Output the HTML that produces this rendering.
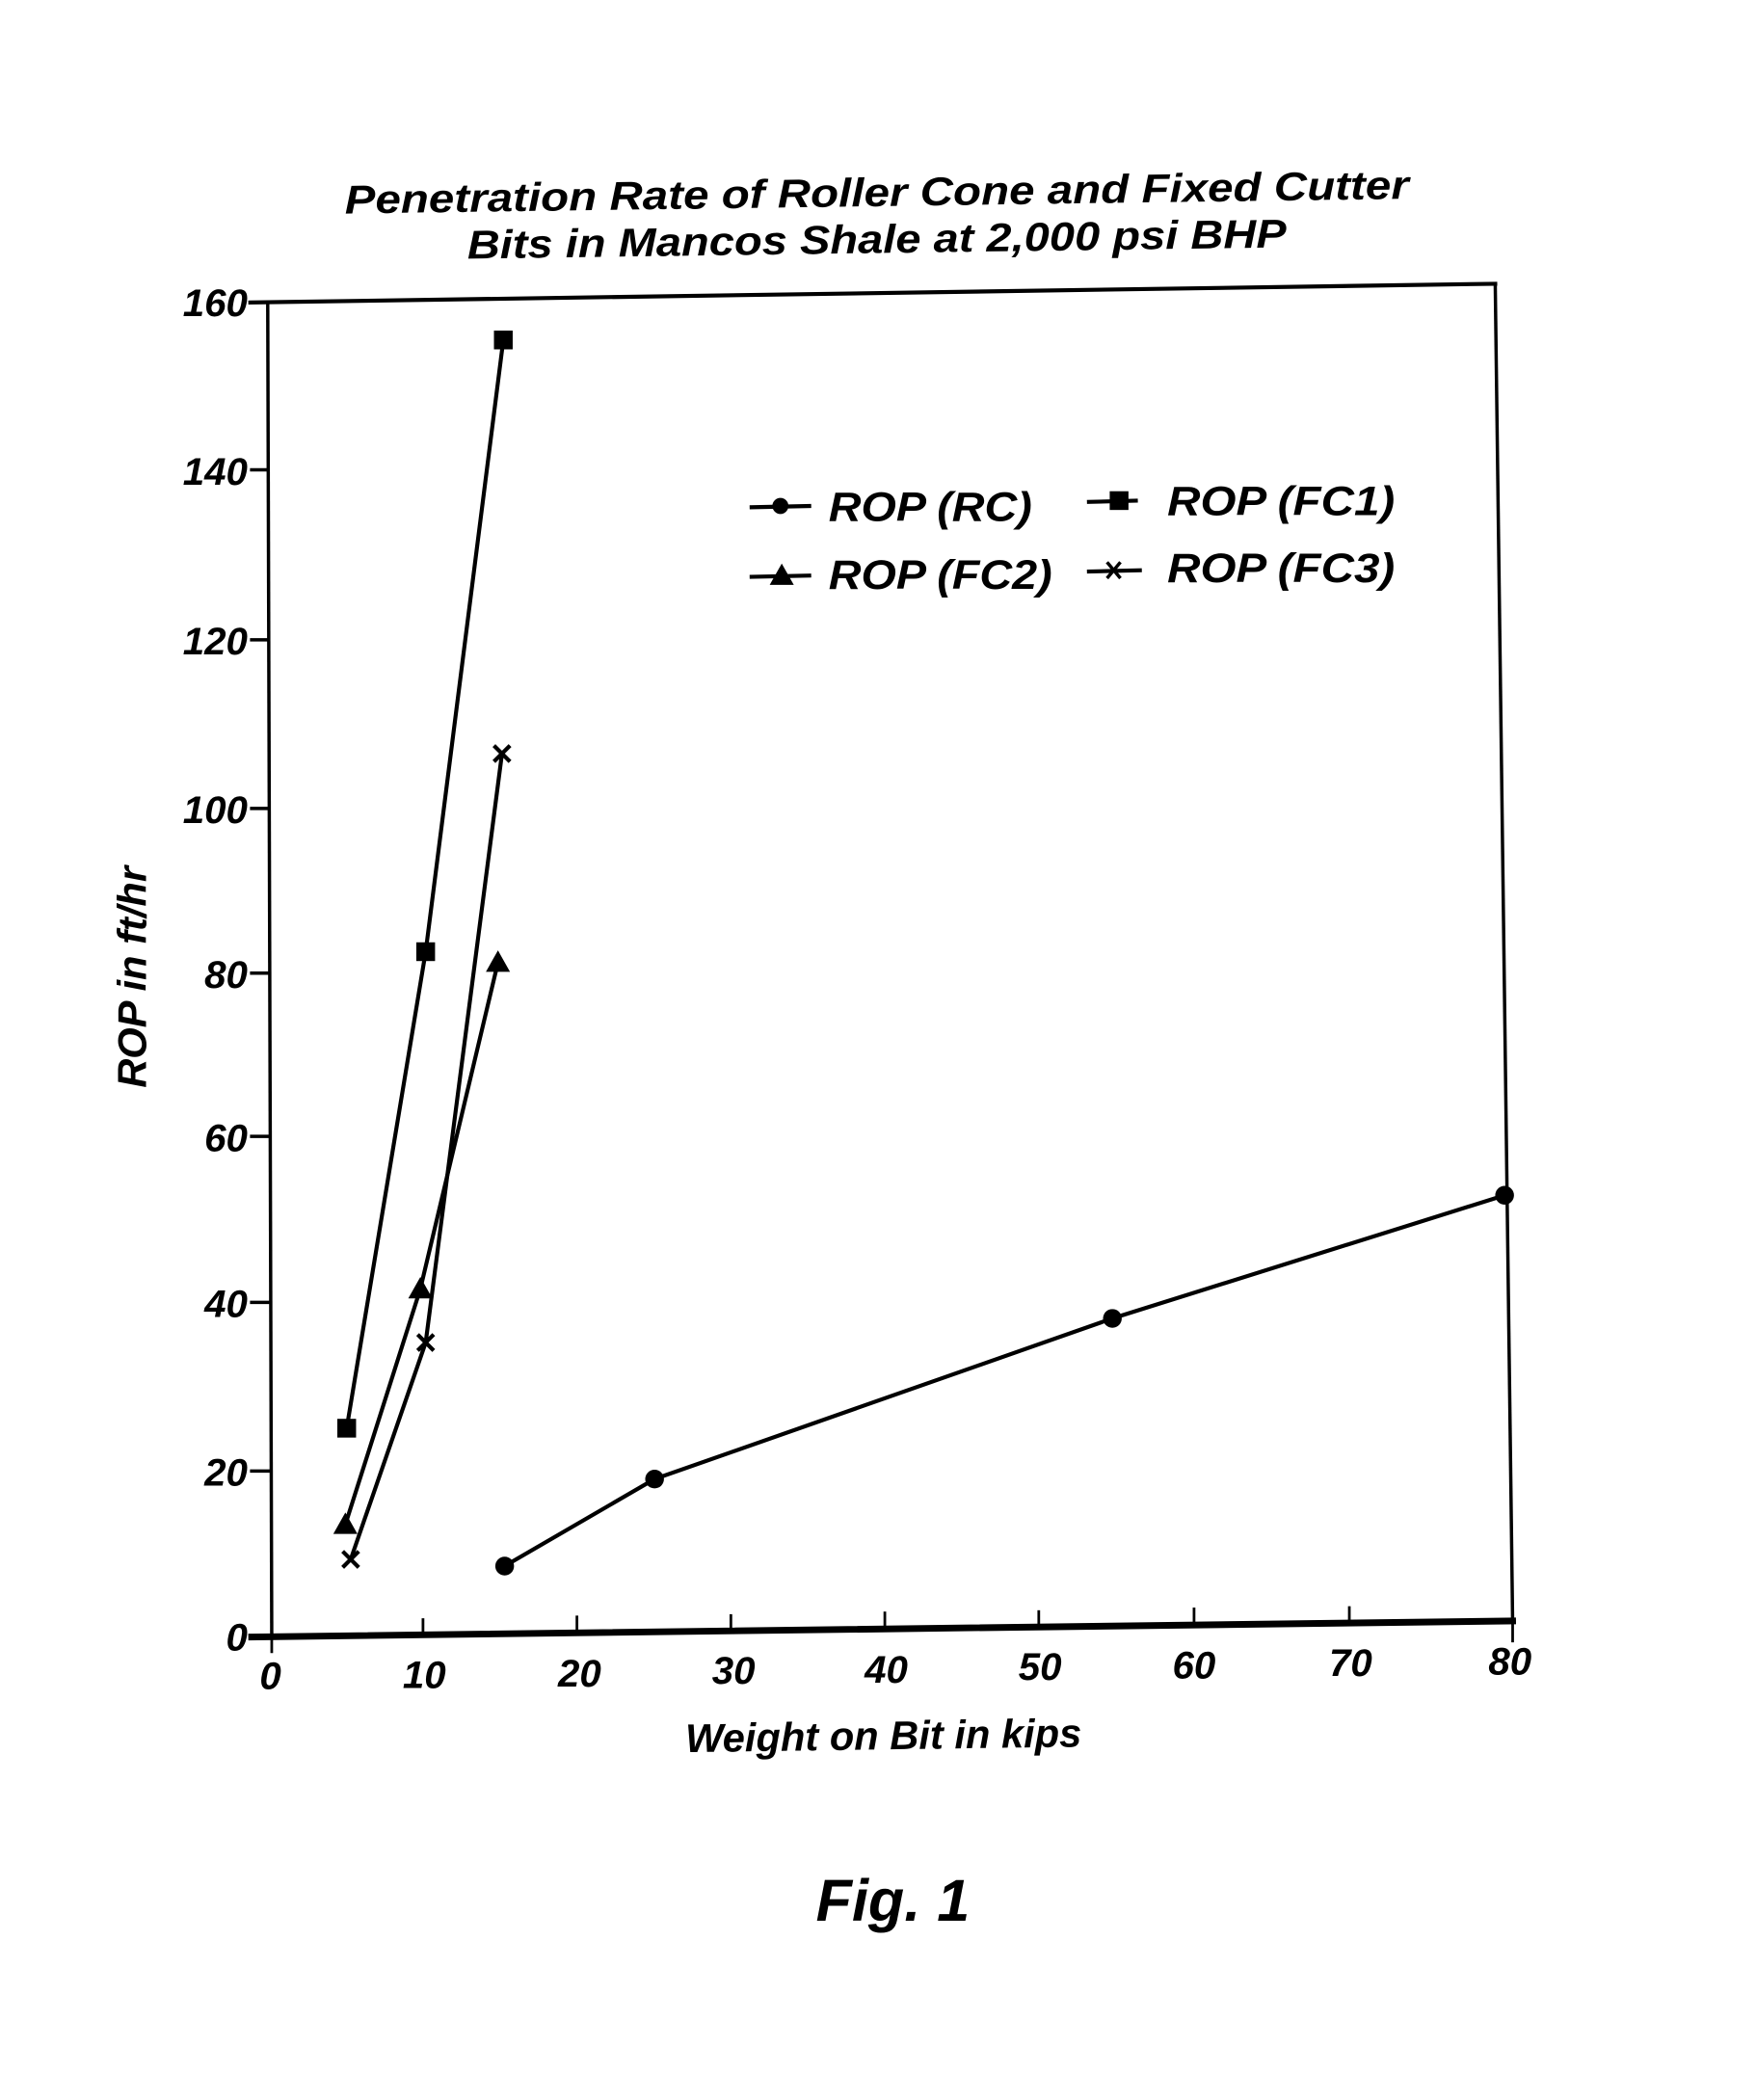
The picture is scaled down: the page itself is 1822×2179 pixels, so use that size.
<!DOCTYPE html>
<html><head><meta charset="utf-8"><style>html,body{margin:0;padding:0;background:#fff}svg{display:block}</style></head>
<body>
<svg width="1822" height="2179" viewBox="0 0 1311.8 1568.9" preserveAspectRatio="none" xmlns="http://www.w3.org/2000/svg" font-family="'Liberation Sans', sans-serif" font-weight="bold" font-style="italic">
<rect width="1311.8" height="1568.9" fill="#fff"/>
<g text-anchor="middle" font-size="30">
<text x="655" y="154" textLength="795" lengthAdjust="spacingAndGlyphs" transform="rotate(-0.8 655 145)">Penetration Rate of Roller Cone and Fixed Cutter</text>
<text x="655" y="189" textLength="612" lengthAdjust="spacingAndGlyphs" transform="rotate(-0.8 655 180)">Bits in Mancos Shale at 2,000 psi BHP</text>
</g>
<g stroke="#000" fill="none" stroke-linecap="square">
<line x1="187" y1="226" x2="1117" y2="212" stroke-width="3"/>
<line x1="200" y1="226" x2="203" y2="1222" stroke-width="2.5"/>
<line x1="1117" y1="212" x2="1130" y2="1212" stroke-width="2.5"/>
<line x1="188" y1="1223" x2="1130" y2="1211" stroke-width="5"/>
<line x1="188" y1="351" x2="200" y2="351" stroke-width="2.5"/>
<line x1="188" y1="478" x2="200" y2="478" stroke-width="2.5"/>
<line x1="188" y1="604" x2="200" y2="604" stroke-width="2.5"/>
<line x1="188" y1="727" x2="200" y2="727" stroke-width="2.5"/>
<line x1="188" y1="849" x2="200" y2="849" stroke-width="2.5"/>
<line x1="188" y1="973" x2="201" y2="973" stroke-width="2.5"/>
<line x1="188" y1="1099" x2="202" y2="1099" stroke-width="2.5"/>
<line x1="203" y1="1222" x2="203" y2="1234" stroke-width="2"/>
<line x1="316" y1="1221" x2="316" y2="1210" stroke-width="2"/>
<line x1="431" y1="1219" x2="431" y2="1208" stroke-width="2"/>
<line x1="546" y1="1218" x2="546" y2="1207" stroke-width="2"/>
<line x1="661" y1="1216" x2="661" y2="1205" stroke-width="2"/>
<line x1="776" y1="1215" x2="776" y2="1204" stroke-width="2"/>
<line x1="892" y1="1213" x2="892" y2="1202" stroke-width="2"/>
<line x1="1008" y1="1212" x2="1008" y2="1201" stroke-width="2"/>
<line x1="1130" y1="1211" x2="1130" y2="1226" stroke-width="2"/>
</g>
<g font-size="29" text-anchor="end">
<text x="185" y="236">160</text><text x="185" y="362">140</text><text x="185" y="489">120</text>
<text x="185" y="615">100</text><text x="185" y="738">80</text><text x="185" y="860">60</text>
<text x="185" y="984">40</text><text x="185" y="1110">20</text><text x="185" y="1233">0</text>
</g>
<g font-size="29" text-anchor="middle">
<text x="202" y="1262">0</text><text x="317" y="1261">10</text><text x="433" y="1260">20</text>
<text x="548" y="1258">30</text><text x="662" y="1257">40</text><text x="777" y="1255">50</text>
<text x="892" y="1254">60</text><text x="1009" y="1252">70</text><text x="1128" y="1251">80</text>
</g>
<text x="660" y="1307" font-size="30" text-anchor="middle" transform="rotate(-0.8 660 1297)">Weight on Bit in kips</text>
<text x="0" y="0" font-size="30" text-anchor="middle" transform="translate(109 730) rotate(-90)">ROP in ft/hr</text>
<text x="667" y="1435" font-size="44" text-anchor="middle">Fig. 1</text>
<g stroke="#000" stroke-width="3" fill="none">
<polyline points="259,1067 318,711 376,254"/>
<polyline points="258,1139 314,963 372,719"/>
<polyline points="262,1165 318,1003 375,563"/>
<polyline points="377,1170 489,1105 831,985 1124,893"/>
</g>
<g fill="#000">
<rect x="252" y="1060" width="14" height="14"/><rect x="311" y="704" width="14" height="14"/><rect x="369" y="247" width="14" height="14"/>
<polygon points="258,1130 249,1146 267,1146"/><polygon points="314,954 305,970 323,970"/><polygon points="372,710 363,726 381,726"/>
<circle cx="377" cy="1170" r="7"/><circle cx="489" cy="1105" r="7"/><circle cx="831" cy="985" r="7"/><circle cx="1124" cy="893" r="7"/>
</g>
<g stroke="#000" stroke-width="3">
<path d="M256,1159 l12,12 M268,1159 l-12,12"/>
<path d="M312,997 l12,12 M324,997 l-12,12"/>
<path d="M369,557 l12,12 M381,557 l-12,12"/>
</g>
<g stroke="#000" stroke-width="3">
<line x1="560" y1="379" x2="606" y2="378"/>
<line x1="812" y1="375" x2="850" y2="374"/>
<line x1="560" y1="431" x2="606" y2="430"/>
<line x1="812" y1="427" x2="853" y2="426"/>
<path d="M827,420 l10,12 M837,420 l-10,12" stroke-width="2.5"/>
</g>
<g fill="#000">
<circle cx="583" cy="378" r="6"/>
<rect x="829" y="367" width="14" height="14"/>
<polygon points="584,421 575,437 593,437"/>
</g>
<g font-size="31">
<text x="619" y="389" textLength="152" lengthAdjust="spacingAndGlyphs">ROP (RC)</text>
<text x="872" y="385" textLength="170" lengthAdjust="spacingAndGlyphs">ROP (FC1)</text>
<text x="619" y="440" textLength="167" lengthAdjust="spacingAndGlyphs">ROP (FC2)</text>
<text x="872" y="435" textLength="170" lengthAdjust="spacingAndGlyphs">ROP (FC3)</text>
</g>
</svg>
</body></html>
